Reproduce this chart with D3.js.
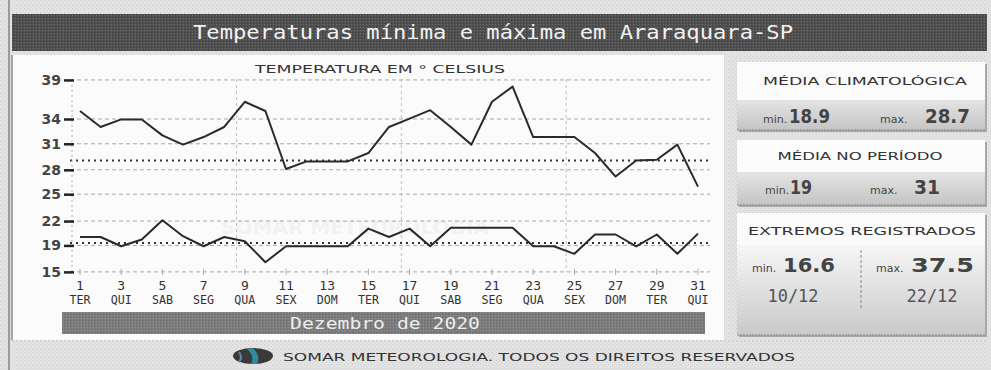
<!DOCTYPE html>
<html>
<head>
<meta charset="utf-8">
<script src="https://cdn.jsdelivr.net/npm/d3@7"></script>
<style>
  html, body { margin: 0; padding: 0; background: #e2e2e2; }
  svg { display: block; }
</style>
</head>
<body>
<svg id="chart" width="991" height="370"></svg>
<script>
// Daily temperatures, December 2020 (°C)
const days = [1,2,3,4,5,6,7,8,9,10,11,12,13,14,15,16,17,18,19,20,21,22,23,24,25,26,27,28,29,30,31];
const tempMax = [34.6,32.7,33.6,33.6,31.7,30.6,31.5,32.7,35.7,34.6,27.7,28.6,28.6,28.6,29.6,32.7,33.7,34.7,32.7,30.6,35.7,37.5,31.5,31.5,31.5,29.6,26.8,28.7,28.8,30.6,25.6];
const tempMin = [19.6,19.6,18.5,19.3,21.6,19.7,18.5,19.6,19.1,16.6,18.5,18.5,18.5,18.5,20.6,19.6,20.6,18.5,20.7,20.7,20.7,20.7,18.5,18.5,17.6,19.9,19.9,18.5,19.9,17.6,20.0];

// Climatological normals drawn as dotted reference lines
const climMin = 18.9;
const climMax = 28.7;

// Y axis: tick positions and their printed labels
const yTickValues = [38.3, 33.65, 30.7, 27.6, 24.7, 21.5, 18.6, 15.45];
const yTickLabels = ["39", "34", "31", "28", "25", "22", "19", "15"];

// X axis: labelled days and weekday abbreviations
const xTickDays = [1,3,5,7,9,11,13,15,17,19,21,23,25,27,29,31];
const xTickWeekdays = ["TER","QUI","SAB","SEG","QUA","SEX","DOM","TER","QUI","SAB","SEG","QUA","SEX","DOM","TER","QUI"];

// Vertical guide lines (in day units)
const vGridDays = [8.6, 16.6, 24.6];

// Side panel figures
const statClim = { min: "18.9", max: "28.7" };
const statPeriod = { min: "19", max: "31" };
const statExtremes = { min: "16.6", max: "37.5", minDate: "10/12", maxDate: "22/12" };

const svg = d3.select("#chart");
const defs = svg.append("defs");

// textures
const bgPat = defs.append("pattern").attr("id", "bgTex").attr("width", 4).attr("height", 4).attr("patternUnits", "userSpaceOnUse");
bgPat.append("rect").attr("width", 4).attr("height", 4).attr("fill", "#e3e3e3");
bgPat.append("rect").attr("x", 0).attr("y", 0).attr("width", 1).attr("height", 1).attr("fill", "#cdcdcd");
bgPat.append("rect").attr("x", 2).attr("y", 2).attr("width", 1).attr("height", 1).attr("fill", "#d2d2d2");

const darkPat = defs.append("pattern").attr("id", "darkTex").attr("width", 3).attr("height", 3).attr("patternUnits", "userSpaceOnUse");
darkPat.append("rect").attr("width", 3).attr("height", 3).attr("fill", "#505050");
darkPat.append("rect").attr("x", 0).attr("y", 0).attr("width", 1).attr("height", 1).attr("fill", "#6a6a6a");
darkPat.append("rect").attr("x", 1).attr("y", 2).attr("width", 1).attr("height", 1).attr("fill", "#3e3e3e");

const midPat = defs.append("pattern").attr("id", "midTex").attr("width", 3).attr("height", 3).attr("patternUnits", "userSpaceOnUse");
midPat.append("rect").attr("width", 3).attr("height", 3).attr("fill", "#7c7c7c");
midPat.append("rect").attr("x", 0).attr("y", 0).attr("width", 1).attr("height", 1).attr("fill", "#929292");
midPat.append("rect").attr("x", 1).attr("y", 2).attr("width", 1).attr("height", 1).attr("fill", "#6c6c6c");

const bandGrad = defs.append("linearGradient").attr("id", "bandGrad").attr("x1", 0).attr("x2", 0).attr("y1", 0).attr("y2", 1);
bandGrad.append("stop").attr("offset", "0%").attr("stop-color", "#e4e4e4");
bandGrad.append("stop").attr("offset", "100%").attr("stop-color", "#c4c4c4");

const lowGrad = defs.append("linearGradient").attr("id", "lowGrad").attr("x1", 0).attr("x2", 0).attr("y1", 0).attr("y2", 1);
lowGrad.append("stop").attr("offset", "0%").attr("stop-color", "#f6f6f6");
lowGrad.append("stop").attr("offset", "100%").attr("stop-color", "#c9c9c9");

// page background
svg.append("rect").attr("width", 991).attr("height", 370).attr("fill", "url(#bgTex)");
svg.append("line").attr("x1", 9).attr("x2", 9).attr("y1", 0).attr("y2", 370).attr("stroke", "#9a9a9a").attr("stroke-width", 2);

// header bar
svg.append("rect").attr("x", 12).attr("y", 14).attr("width", 975).attr("height", 37).attr("fill", "url(#darkTex)");
svg.append("text").attr("x", 493).attr("y", 39)
  .attr("text-anchor", "middle")
  .attr("font-family", "DejaVu Sans Mono, monospace").attr("font-size", 20)
  .attr("textLength", 600).attr("lengthAdjust", "spacingAndGlyphs")
  .attr("fill", "#f2f2f2")
  .text("Temperaturas mínima e máxima em Araraquara-SP");

// chart panel
svg.append("rect").attr("x", 12).attr("y", 55).attr("width", 712).attr("height", 285).attr("fill", "#fbfbfb");
svg.append("line").attr("x1", 12).attr("x2", 12).attr("y1", 55).attr("y2", 340).attr("stroke", "#8c8c8c").attr("stroke-width", 1.5);

// scales
const x = d3.scaleLinear().domain([1, 31]).range([80, 698]);
const y = d3.scaleLinear().domain([15.4, 38.4]).range([272.3, 79.1]);

// faint watermark
svg.append("text").attr("x", 355).attr("y", 234).attr("text-anchor", "middle")
  .attr("font-family", "DejaVu Sans, sans-serif").attr("font-weight", "bold").attr("font-size", 20)
  .attr("fill", "#f2f2f2").text("SOMAR METEOROLOGIA");

// subtitle
svg.append("text").attr("x", 380).attr("y", 73).attr("text-anchor", "middle")
  .attr("font-family", "DejaVu Sans, sans-serif").attr("font-size", 11)
  .attr("textLength", 250).attr("lengthAdjust", "spacingAndGlyphs")
  .attr("fill", "#333").text("TEMPERATURA EM ° CELSIUS");

// horizontal grid
const gx0 = 70, gx1 = 710;
svg.append("g").selectAll("line").data(yTickValues).join("line")
  .attr("x1", gx0).attr("x2", gx1)
  .attr("y1", d => y(d)).attr("y2", d => y(d))
  .attr("stroke", "#a8a8a8").attr("stroke-width", 1).attr("stroke-dasharray", "4,3");

// vertical guides
svg.append("g").selectAll("line").data(vGridDays).join("line")
  .attr("x1", d => x(d)).attr("x2", d => x(d))
  .attr("y1", y(38.4)).attr("y2", y(15.45))
  .attr("stroke", "#bdbdbd").attr("stroke-width", 1).attr("stroke-dasharray", "3,3");

// climatological references
svg.append("g").selectAll("line").data([climMax, climMin]).join("line")
  .attr("x1", gx0).attr("x2", gx1)
  .attr("y1", d => y(d)).attr("y2", d => y(d))
  .attr("stroke", "#333").attr("stroke-width", 2).attr("stroke-dasharray", "2,4");

// y axis: dotted spine, major ticks and labels
svg.append("line").attr("x1", 72).attr("x2", 72).attr("y1", y(38.3)).attr("y2", y(15.45))
  .attr("stroke", "#aaa").attr("stroke-dasharray", "2,3");
const yAxis = d3.axisLeft(y).tickValues(yTickValues).tickSize(10).tickPadding(3)
  .tickFormat((d, i) => yTickLabels[i]);
const gy = svg.append("g").attr("transform", "translate(74,0)").call(yAxis);
gy.select(".domain").remove();
gy.selectAll(".tick line").attr("stroke", "#222").attr("stroke-width", 2.5);
gy.selectAll(".tick text")
  .attr("font-family", "DejaVu Sans, sans-serif").attr("font-weight", "bold")
  .attr("font-size", 14).attr("fill", "#444");

// x axis labels
const gxl = svg.append("g").selectAll("g").data(xTickDays).join("g")
  .attr("transform", d => `translate(${x(d)},0)`);
gxl.append("line").attr("y1", y(15.45) - 3).attr("y2", y(15.45) + 3).attr("stroke", "#aaa");
gxl.append("text").attr("y", 290).attr("text-anchor", "middle")
  .attr("font-family", "DejaVu Sans Mono, monospace").attr("font-size", 13).attr("fill", "#333")
  .text(d => d);
gxl.append("text").attr("y", 304).attr("text-anchor", "middle")
  .attr("font-family", "DejaVu Sans Mono, monospace").attr("font-size", 13).attr("fill", "#333")
  .attr("textLength", 21).attr("lengthAdjust", "spacingAndGlyphs")
  .text((d, i) => xTickWeekdays[i]);

// temperature lines
const line = d3.line().x((d, i) => x(days[i])).y(d => y(d));
svg.append("path").datum(tempMax).attr("d", line)
  .attr("fill", "none").attr("stroke", "#2a2a2a").attr("stroke-width", 2).attr("stroke-linejoin", "round");
svg.append("path").datum(tempMin).attr("d", line)
  .attr("fill", "none").attr("stroke", "#2a2a2a").attr("stroke-width", 2).attr("stroke-linejoin", "round");

// month bar
svg.append("rect").attr("x", 62).attr("y", 312).attr("width", 643).attr("height", 22).attr("fill", "url(#midTex)");
svg.append("text").attr("x", 385).attr("y", 329).attr("text-anchor", "middle")
  .attr("font-family", "DejaVu Sans Mono, monospace").attr("font-size", 16)
  .attr("textLength", 190).attr("lengthAdjust", "spacingAndGlyphs")
  .attr("fill", "#eeeeee").text("Dezembro de 2020");

// footer
svg.append("line").attr("x1", 12).attr("x2", 987).attr("y1", 341).attr("y2", 341).attr("stroke", "#c8c8c8").attr("stroke-dasharray", "2,2");
const logo = svg.append("g").attr("transform", "translate(253,356)");
logo.append("ellipse").attr("rx", 20).attr("ry", 8).attr("fill", "#3a3a3a");
logo.append("path").attr("d", "M-6,-7 Q2,0 -2,8 L4,8 Q8,0 0,-8 Z").attr("fill", "#2f8a9a");
logo.append("path").attr("d", "M-14,-4 Q-10,2 -14,6").attr("stroke", "#6a7fb0").attr("stroke-width", 2).attr("fill", "none");
svg.append("text").attr("x", 539).attr("y", 361).attr("text-anchor", "middle")
  .attr("font-family", "DejaVu Sans, sans-serif").attr("font-size", 11)
  .attr("textLength", 512).attr("lengthAdjust", "spacingAndGlyphs")
  .attr("fill", "#333").text("SOMAR METEOROLOGIA. TODOS OS DIREITOS RESERVADOS");

// side panels
function panel(y0, h, bandY, bandH, grad) {
  svg.append("rect").attr("x", 739).attr("y", y0 + 2).attr("width", 248).attr("height", h).attr("fill", "#a8a8a8");
  svg.append("rect").attr("x", 737).attr("y", y0).attr("width", 248).attr("height", h).attr("fill", "#fbfbfb");
  svg.append("rect").attr("x", 737).attr("y", bandY).attr("width", 248).attr("height", bandH).attr("fill", grad);
  svg.append("line").attr("x1", 737).attr("x2", 985).attr("y1", y0 + h).attr("y2", y0 + h)
    .attr("stroke", "#888").attr("stroke-dasharray", "2,1");
}
function caption(txt, cx, cy, len) {
  svg.append("text").attr("x", cx).attr("y", cy).attr("text-anchor", "middle")
    .attr("font-family", "DejaVu Sans, sans-serif").attr("font-size", 11)
    .attr("textLength", len).attr("lengthAdjust", "spacingAndGlyphs")
    .attr("fill", "#333").text(txt);
}
function small(txt, x0, cy) {
  svg.append("text").attr("x", x0).attr("y", cy)
    .attr("font-family", "DejaVu Sans, sans-serif").attr("font-size", 11)
    .attr("fill", "#444").text(txt);
}
function big(txt, x0, cy, len) {
  svg.append("text").attr("x", x0).attr("y", cy)
    .attr("font-family", "DejaVu Sans, sans-serif").attr("font-weight", "bold").attr("font-size", 19)
    .attr("textLength", len).attr("lengthAdjust", "spacingAndGlyphs")
    .attr("fill", "#444").text(txt);
}

panel(62, 68, 100, 30, "url(#bandGrad)");
caption("MÉDIA CLIMATOLÓGICA", 865, 85, 204);
small("min.", 763, 123); big(statClim.min, 789, 123, 41);
small("max.", 880, 123); big(statClim.max, 925, 123, 45);

panel(140, 65, 172, 33, "url(#bandGrad)");
caption("MÉDIA NO PERÍODO", 860, 160, 165);
small("min.", 765, 194); big(statPeriod.min, 790, 194, 22);
small("max.", 870, 194); big(statPeriod.max, 914, 194, 26);

panel(213, 122, 245, 90, "url(#lowGrad)");
caption("EXTREMOS REGISTRADOS", 862, 235, 228);
small("min.", 752, 272); big(statExtremes.min, 783, 272, 52);
small("max.", 876, 272); big(statExtremes.max, 911, 272, 63);
svg.append("line").attr("x1", 861).attr("x2", 861).attr("y1", 250).attr("y2", 310)
  .attr("stroke", "#888").attr("stroke-dasharray", "3,2");
svg.append("text").attr("x", 793).attr("y", 302).attr("text-anchor", "middle")
  .attr("font-family", "DejaVu Sans Mono, monospace").attr("font-size", 17).attr("fill", "#555")
  .text(statExtremes.minDate);
svg.append("text").attr("x", 932).attr("y", 302).attr("text-anchor", "middle")
  .attr("font-family", "DejaVu Sans Mono, monospace").attr("font-size", 17).attr("fill", "#555")
  .text(statExtremes.maxDate);
</script>
</body>
</html>
